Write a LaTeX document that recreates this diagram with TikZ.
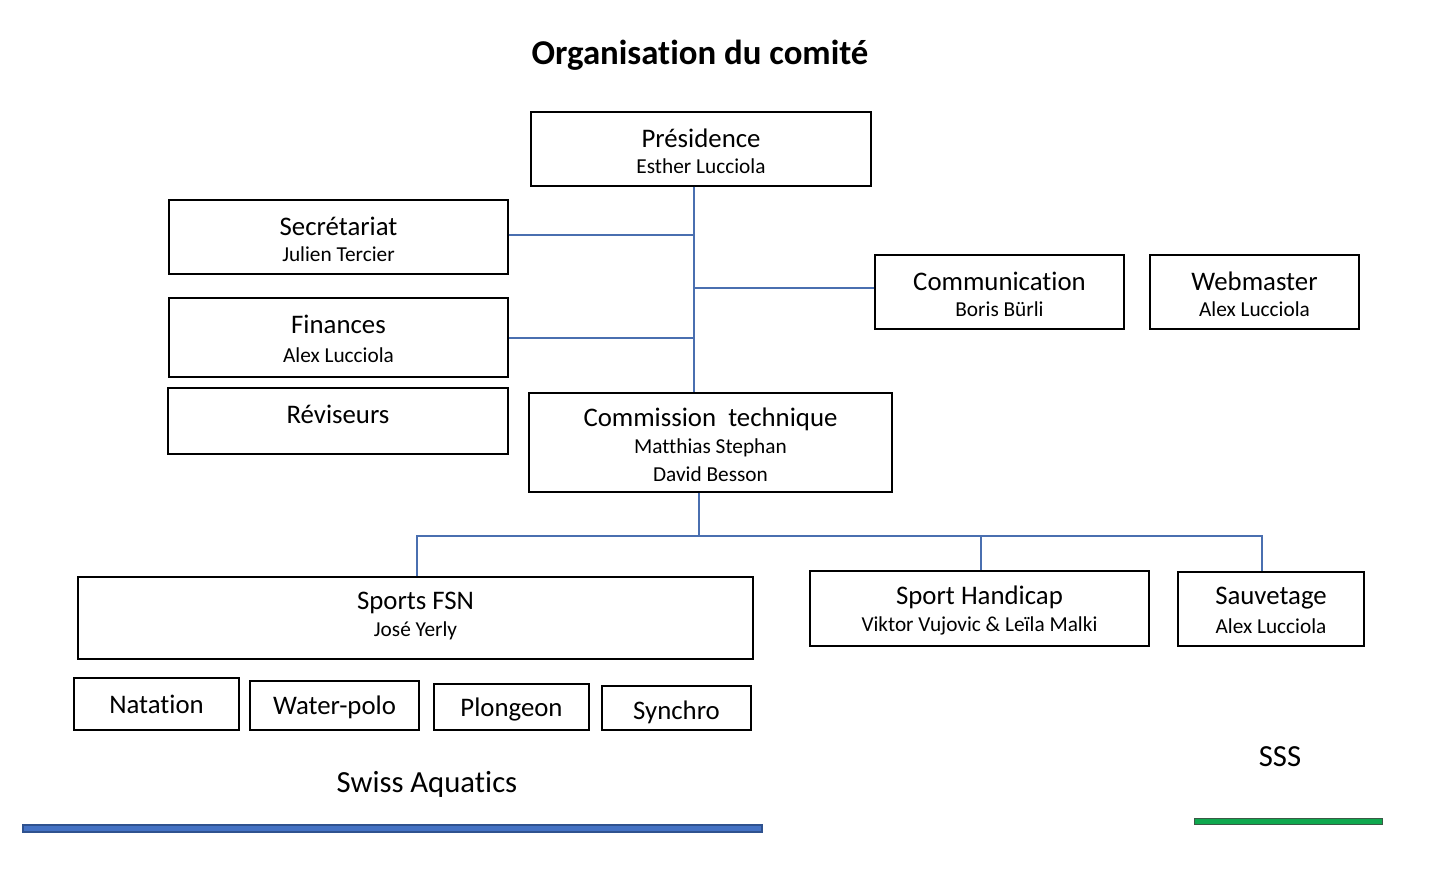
\documentclass[tikz,border=0pt]{standalone}
\usepackage{fontspec}
\setmainfont[Ligatures={NoCommon}]{Carlito}
\definecolor{conncol}{HTML}{4A6FB0}
\definecolor{bluebar}{HTML}{4472C4}
\definecolor{bluebord}{HTML}{2F528F}
\definecolor{greenbar}{HTML}{0FA84E}
\definecolor{greenbord}{HTML}{3A5A45}
\begin{document}
\begin{tikzpicture}[x=1pt,y=-1pt,
  box/.style={draw=black,line width=1.2pt,inner sep=0pt,rectangle},
  conn/.style={draw=conncol,line width=1.2pt},
  maintext/.style={inner sep=0pt,font=\fontsize{26.8}{30}\selectfont},
  subtext/.style={inner sep=0pt,font=\fontsize{21.3}{25}\selectfont},
  bigtext/.style={inner sep=0pt,font=\fontsize{30.7}{34}\selectfont},
  titletext/.style={inner sep=0pt,font=\bfseries\fontsize{34.8}{38}\selectfont}]
\useasboundingbox (0,0) rectangle (1450,877);
\fill[white] (0,0) rectangle (1450,877);

\node[titletext] (title) at (700,55) {Organisation du comité};

% boxes
\node[box,minimum width=340pt,minimum height=74pt] (pres) at (701,149) {};
\node[box,minimum width=339pt,minimum height=74pt] (sec) at (338.5,237) {};
\node[box,minimum width=339pt,minimum height=79pt] (fin) at (338.5,337.5) {};
\node[box,minimum width=340pt,minimum height=66pt] (rev) at (338,421) {};
\node[box,minimum width=249pt,minimum height=74pt] (comm) at (999.5,292) {};
\node[box,minimum width=209pt,minimum height=74pt] (web) at (1254.5,292) {};
\node[box,minimum width=363pt,minimum height=99pt] (ct) at (710.5,442.5) {};
\node[box,minimum width=675pt,minimum height=82pt] (fsn) at (415.5,618) {};
\node[box,minimum width=339pt,minimum height=75pt] (hand) at (979.5,608.5) {};
\node[box,minimum width=186pt,minimum height=74pt] (sauv) at (1271,609) {};
\node[box,minimum width=165pt,minimum height=52pt] (nat) at (156.5,704) {};
\node[box,minimum width=169pt,minimum height=49pt] (wp) at (334.5,705.5) {};
\node[box,minimum width=155pt,minimum height=46pt] (plon) at (511.5,707) {};
\node[box,minimum width=149pt,minimum height=44pt] (syn) at (676.5,708) {};

% texts
\node[maintext] (pres-t) at (701,138) {Présidence};
\node[subtext] (pres-n) at (701,166) {Esther Lucciola};
\node[maintext] (sec-t) at (338.5,226) {Secrétariat};
\node[subtext] (sec-n) at (338.5,254) {Julien Tercier};
\node[maintext] (fin-t) at (338.5,324) {Finances};
\node[subtext] (fin-n) at (338.5,355) {Alex Lucciola};
\node[maintext] (rev-t) at (338,414) {Réviseurs};
\node[maintext] (comm-t) at (999.5,281) {Communication};
\node[subtext] (comm-n) at (999.5,309) {Boris Bürli};
\node[maintext] (web-t) at (1254.5,281) {Webmaster};
\node[subtext] (web-n) at (1254.5,309) {Alex Lucciola};
\node[maintext] (ct-t) at (710.5,419) {Commission~ technique};
\node[subtext] (ct-n1) at (710.5,448) {Matthias Stephan};
\node[subtext] (ct-n2) at (710.5,474) {David Besson};
\node[maintext] (fsn-t) at (415.5,603) {Sports FSN};
\node[subtext] (fsn-n) at (415.5,631) {José Yerly};
\node[maintext] (hand-t) at (979.5,597) {Sport Handicap};
\node[subtext] (hand-n) at (979.5,626) {Viktor Vujovic \& Leïla Malki};
\node[maintext] (sauv-t) at (1271,598) {Sauvetage};
\node[subtext] (sauv-n) at (1271,626) {Alex Lucciola};
\node[maintext] (nat-t) at (156.5,704) {Natation};
\node[maintext] (wp-t) at (334.5,707) {Water-polo};
\node[maintext] (plon-t) at (511.5,709) {Plongeon};
\node[maintext] (syn-t) at (676.5,712) {Synchro};
\node[bigtext] (swiss) at (427,784) {Swiss Aquatics};
\node[bigtext] (sss) at (1280,757) {SSS};

% connectors
\coordinate (sx) at (694,0);
\coordinate (cx) at (699,0);
\coordinate (fx) at (417,0);
\coordinate (hx) at (981,0);
\coordinate (svx) at (1262,0);
\coordinate (busy) at (0,536);
\coordinate (secy) at (0,235);
\coordinate (finy) at (0,338);
\coordinate (commy) at (0,288);
\draw[conn] (pres.south -| sx) -- (ct.north -| sx);
\draw[conn,line width=2pt] (pres.south -| sx) -- (sx |- finy);
\draw[conn] (sec.east |- secy) -- (sx |- secy);
\draw[conn] (fin.east |- finy) -- (sx |- finy);
\draw[conn] (comm.west |- commy) -- (sx |- commy);
\draw[conn] (ct.south -| cx) -- (cx |- busy);
\draw[conn] (fsn.north -| fx) |- (svx |- busy) -- (sauv.north -| svx);
\draw[conn,line width=2pt] (cx |- busy) -- (hx |- busy);
\draw[conn] (hand.north -| hx) -- (hx |- busy);

% bars
\draw[draw=bluebord,fill=bluebar,line width=1.2pt] (23,825) rectangle (762,832);
\draw[draw=greenbord,fill=greenbar,line width=1pt] (1194,818) rectangle (1382,824);
\end{tikzpicture}
\end{document}
